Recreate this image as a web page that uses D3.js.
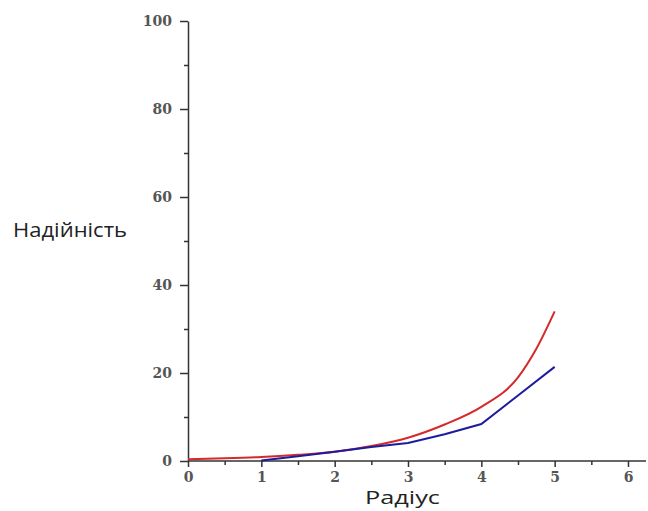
<html>
<head>
<script src="https://d3js.org/d3.v7.min.js"></script>
<style>
  body { margin: 0; background: #fff; }
  .tick text { font-family: "DejaVu Serif", serif; font-weight: bold; fill: #555; }
</style>
</head>
<body>
<svg id="chart"></svg>
<script>
// значення
var xs = [0, 0.5, 1, 1.5, 2, 2.5, 3, 3.5, 4, 4.5, 4.75, 5];
var redVals = [0.4, 0.6, 0.9, 1.4, 2.1, 3.4, 5.3, 8.3, 12.3, 19.0, 25.5, 34];
var blueX = [1, 1.5, 2, 2.5, 3, 3.5, 4, 4.5, 5];
var blueVals = [0.1, 1.1, 2.1, 3.2, 4.1, 6.1, 8.4, 14.9, 21.4];
var xTicks = [0, 1, 2, 3, 4, 5, 6];
var yTicks = [0, 20, 40, 60, 80, 100];

var width = 648, height = 511;
var svg = d3.select("#chart").attr("width", width).attr("height", height);

var x = d3.scaleLinear().domain([0, 6]).range([188, 628]);
var y = d3.scaleLinear().domain([0, 100]).range([461, 21]);

// вісь Y
var yAxis = svg.append("g").attr("transform", "translate(188,0)")
  .call(d3.axisLeft(y).tickValues(yTicks).tickSize(8).tickPadding(8).tickSizeOuter(0));
svg.append("g").attr("transform", "translate(188,0)")
  .call(d3.axisLeft(y).tickValues(d3.range(10, 100, 20)).tickSize(4).tickFormat("").tickSizeOuter(0))
  .select(".domain").remove();

// вісь X
var xAxis = svg.append("g").attr("transform", "translate(0,461)")
  .call(d3.axisBottom(x).tickValues(xTicks).tickFormat(d3.format("d")).tickSize(6).tickPadding(5).tickSizeOuter(0));
xAxis.select(".domain").attr("d", "M188,0H646");
svg.append("g").attr("transform", "translate(0,461)")
  .call(d3.axisBottom(x).tickValues(d3.range(0.5, 6, 1)).tickSize(4).tickFormat("").tickSizeOuter(0))
  .select(".domain").remove();

svg.selectAll(".domain, .tick line").attr("stroke", "#333").attr("stroke-width", 1.5);
svg.selectAll(".tick text").attr("font-size", 14);

// криві
var redLine = d3.line().x((d, i) => x(xs[i])).y(d => y(d)).curve(d3.curveMonotoneX);
svg.append("path").attr("d", redLine(redVals))
  .attr("fill", "none").attr("stroke", "#d42a2a").attr("stroke-width", 2);

var blueLine = d3.line().x((d, i) => x(blueX[i])).y(d => y(d));
svg.append("path").attr("d", blueLine(blueVals))
  .attr("fill", "none").attr("stroke", "#1c1c9e").attr("stroke-width", 2);

// підписи осей
svg.append("text").attr("x", 13).attr("y", 237)
  .attr("font-family", "Open Sans, sans-serif").attr("font-size", 20).attr("fill", "#222")
  .attr("textLength", 114).attr("lengthAdjust", "spacingAndGlyphs")
  .text("Надійність");
svg.append("text").attr("x", 365).attr("y", 504)
  .attr("font-family", "Open Sans, sans-serif").attr("font-size", 19).attr("fill", "#222")
  .attr("textLength", 75).attr("lengthAdjust", "spacingAndGlyphs")
  .text("Радіус");
</script>
</body>
</html>
